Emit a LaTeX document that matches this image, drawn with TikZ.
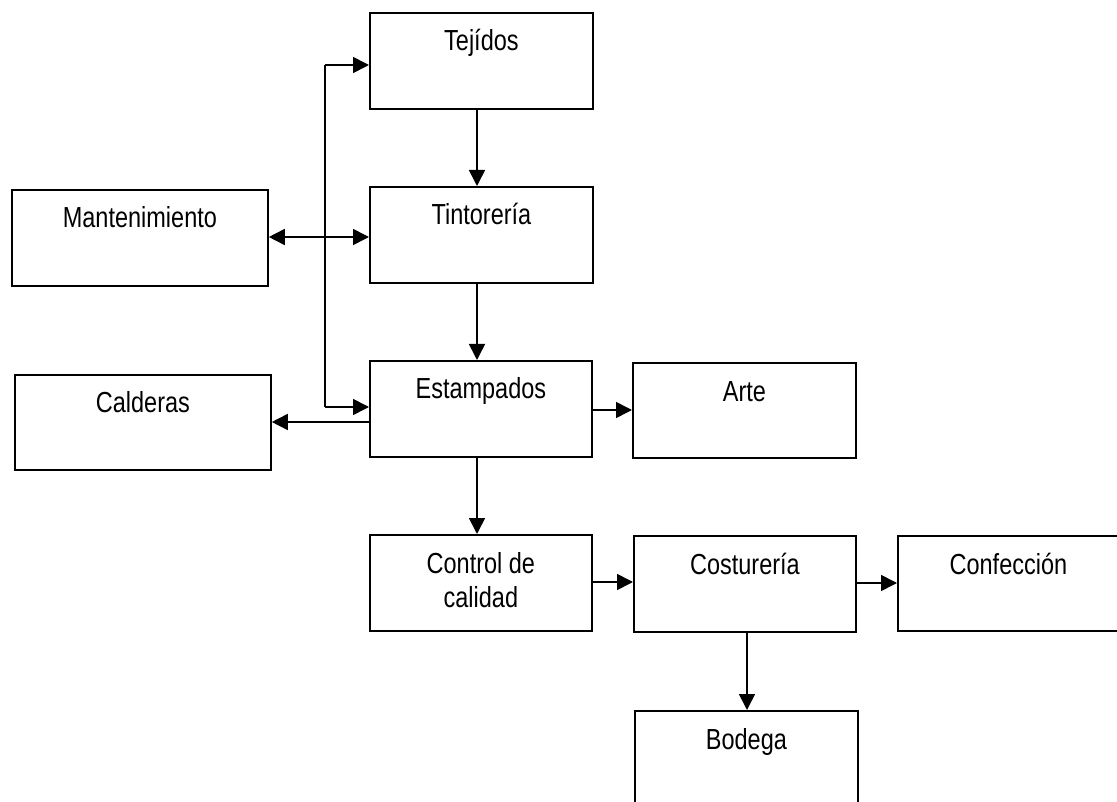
\documentclass[tikz,border=0pt]{standalone}
\usepackage{fontspec}
\setmainfont{Liberation Sans}[FakeStretch=0.81]
\usetikzlibrary{arrows.meta}
\begin{document}
\begin{tikzpicture}[x=1pt,y=-1pt,
  box/.style={draw=black, line width=1.8pt, inner sep=0pt, anchor=north west},
  lab/.style={anchor=base, yshift=-39pt, inner sep=0pt, font=\fontsize{29}{34}\selectfont},
  lab2/.style={anchor=base, yshift=-73pt, inner sep=0pt, font=\fontsize{29}{34}\selectfont},
  arr/.style={line width=1.6pt, -{Triangle[length=16pt,width=16pt]}},
  darr/.style={line width=1.6pt, {Triangle[length=16pt,width=16pt]}-{Triangle[length=16pt,width=16pt]}},
  ln/.style={line width=1.6pt}]
\useasboundingbox (0,0) rectangle (1117,802);
\clip (0,0) rectangle (1117,802);
\node[box, minimum width=223pt, minimum height=96pt, label={[lab]north:Tejídos}] (tej) at (369,12) {};
\node[box, minimum width=223pt, minimum height=96pt, label={[lab]north:Tintorería}] (tin) at (369,186) {};
\node[box, minimum width=256pt, minimum height=96pt, label={[lab]north:Mantenimiento}] (man) at (11,189) {};
\node[box, minimum width=222pt, minimum height=96pt, label={[lab]north:Estampados}] (est) at (369,360) {};
\node[box, minimum width=256pt, minimum height=95pt, label={[lab]north:Calderas}] (cal) at (14,374) {};
\node[box, minimum width=223pt, minimum height=95pt, label={[lab]north:Arte}] (arte) at (632,362) {};
\node[box, minimum width=222pt, minimum height=96pt, label={[lab]north:Control de}, label={[lab2]north:calidad}] (ctrl) at (369,534) {};
\node[box, minimum width=222pt, minimum height=96pt, label={[lab]north:Costurería}] (cost) at (633,535) {};
\node[box, minimum width=228pt, minimum height=95pt, label={[lab,xshift=-3.5pt]north:Confección}] (conf) at (897,535) {};
\node[box, minimum width=223pt, minimum height=100pt, label={[lab]north:Bodega}] (bod) at (634,710) {};
% trunk
\coordinate (jt) at (325,65);
\coordinate (jm) at (325,237);
\coordinate (jb) at (325,407);
\draw[ln] (jt) -- (jb);
\draw[arr] (jt) -- (jt -| tej.west);
\draw[arr] (jb) -- (jb -| est.west);
\draw[darr] (jm -| man.east) -- (jm -| tin.west);
% calderas
\coordinate (cy) at (0,422);
\draw[arr] (cy -| est.west) -- (cy -| cal.east);
% vertical chain
\coordinate (vx) at (477,0);
\draw[arr] (tej.south -| vx) -- (tin.north -| vx);
\draw[arr] (tin.south -| vx) -- (est.north -| vx);
\draw[arr] (est.south -| vx) -- (ctrl.north -| vx);
% horizontals
\coordinate (ay) at (0,410);
\draw[arr] (ay -| est.east) -- (ay -| arte.west);
\coordinate (by) at (0,582);
\draw[arr] (by -| ctrl.east) -- (by -| cost.west);
\coordinate (cyy) at (0,583);
\draw[arr] (cyy -| cost.east) -- (cyy -| conf.west);
\coordinate (bx) at (747,0);
\draw[arr] (cost.south -| bx) -- (bod.north -| bx);
\end{tikzpicture}
\end{document}
